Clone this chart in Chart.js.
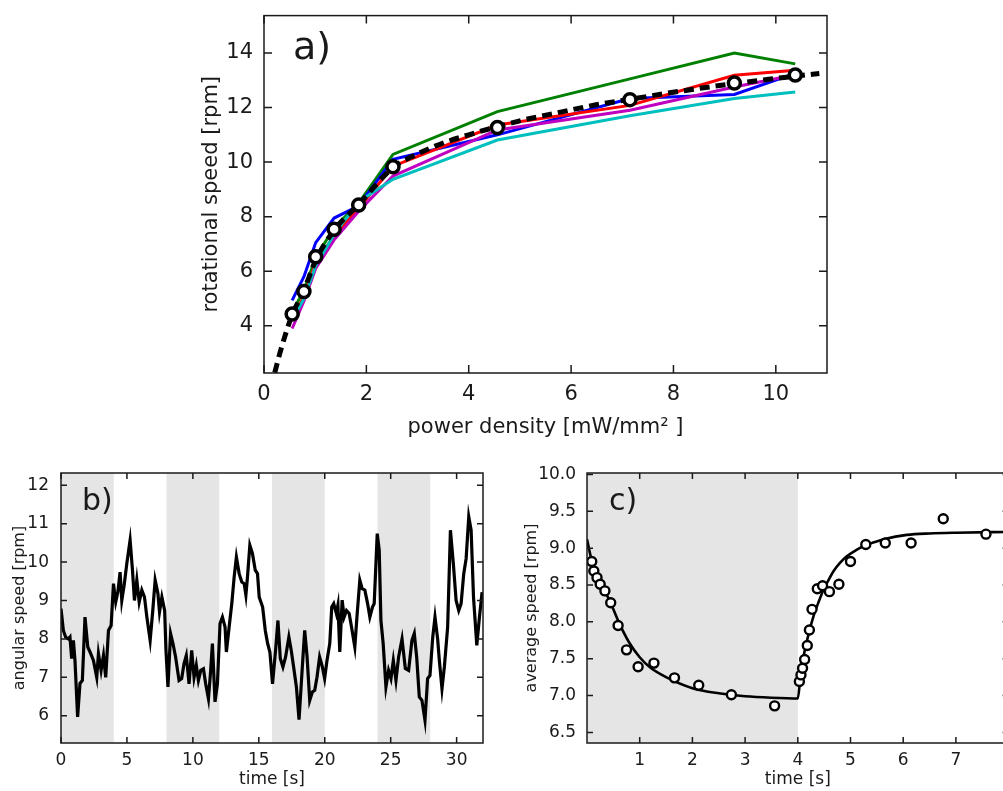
<!DOCTYPE html>
<html>
<head>
<meta charset="utf-8">
<script src="https://cdn.jsdelivr.net/npm/chart.js@4.4.4/dist/chart.umd.min.js"></script>
<style>
  html, body { margin: 0; padding: 0; background: #fff; overflow: hidden; }
  body { width: 1003px; height: 791px; position: relative; }
  canvas { position: absolute; }
</style>
</head>
<body>
<canvas id="pa" width="670" height="450" style="left:180px;top:0px"></canvas>
<canvas id="pb" width="500" height="336" style="left:0px;top:455px"></canvas>
<canvas id="pc" width="510" height="336" style="left:515px;top:455px"></canvas>
<script>
// ---- panel a: rotational speed vs power density ----
const aPower   = [0.55, 0.78, 1.01, 1.37, 1.85, 2.52, 4.56, 7.15, 9.19, 10.38];
const aMean    = [4.43, 5.26, 6.53, 7.54, 8.43, 9.83, 11.27, 12.29, 12.9, 13.19];
const aBlue    = [4.93, 5.8, 7.05, 7.95, 8.4, 10.1, 11.0, 12.33, 12.48, 13.25];
const aGreen   = [4.5, 5.3, 6.5, 7.6, 8.5, 10.28, 11.85, 13.05, 14.0, 13.6];
const aRed     = [4.2, 5.1, 6.3, 7.3, 8.3, 9.85, 11.36, 12.08, 13.18, 13.37];
const aCyan    = [4.2, 5.0, 6.2, 7.35, 8.55, 9.37, 10.81, 11.7, 12.33, 12.57];
const aMagenta = [3.9, 4.9, 6.1, 7.15, 8.2, 9.49, 11.18, 11.9, 12.75, 13.2];
const aFitX    = [0.21, 0.31, 0.55, 0.78, 1.01, 1.37, 1.85, 2.52, 3.0, 3.5, 4.0, 4.56, 5.2, 5.84, 6.49, 7.15, 7.79, 8.5, 9.19, 9.8, 10.38, 10.85];
const aFitY    = [2.28, 3.0, 4.4, 5.3, 6.4, 7.5, 8.45, 9.8, 10.3, 10.7, 11.0, 11.3, 11.6, 11.85, 12.1, 12.3, 12.5, 12.7, 12.88, 13.02, 13.15, 13.25];
const aXTicks  = [0, 2, 4, 6, 8, 10];
const aYTicks  = [4, 6, 8, 10, 12, 14];

// ---- panel b: angular speed vs time ----
const bTime = [0,0.18,0.35,0.56,0.68,0.81,0.94,1.06,1.26,1.44,1.62,1.82,2.03,2.2,2.46,2.71,2.84,3.04,3.22,3.39,
  3.6,3.8,3.98,4.15,4.31,4.48,4.61,4.79,4.99,5.24,5.42,5.57,5.75,5.93,6.13,6.33,6.51,6.76,6.96,7.14,
  7.35,7.47,7.65,7.86,7.96,8.11,
  8.31,8.49,8.69,8.95,9.15,9.33,9.5,9.71,9.91,10.09,10.26,10.42,10.6,10.8,10.97,11.18,11.35,11.48,11.68,11.86,
  12.06,12.24,12.44,12.54,12.75,12.95,13.13,13.3,13.51,13.71,13.89,14.02,14.14,14.32,14.52,14.73,14.9,15.03,15.29,15.49,
  15.67,15.84,16.04,
  16.27,16.45,16.63,16.83,17.03,17.28,17.46,17.64,17.85,18.05,18.3,18.48,18.66,18.86,19.06,19.24,19.41,19.61,19.82,19.99,
  20.17,20.38,20.53,20.68,20.88,21.0,21.14,21.32,21.47,21.65,21.85,22.03,22.28,22.46,22.66,22.84,23.04,23.25,23.42,23.62,
  23.75,23.98,24.13,
  24.26,24.43,24.64,24.84,25.02,25.2,25.4,25.6,25.86,26.11,26.36,26.61,26.79,26.97,27.17,27.37,27.6,27.8,27.98,28.19,
  28.36,28.56,28.69,28.89,29.07,29.32,29.53,29.76,29.96,30.16,30.34,30.54,30.72,30.92,31.1,31.28,31.53,31.73,31.93];
const bSpeed = [8.79,8.22,8.05,8.0,8.05,7.49,7.96,7.44,5.97,6.84,6.92,8.57,7.79,7.66,7.44,7.0,7.62,7.18,7.57,7.0,
  8.22,8.35,9.44,8.96,9.22,9.74,9.0,9.4,9.96,10.57,9.79,9.0,9.53,8.96,9.27,9.09,8.57,7.96,8.74,9.53,
  9.18,8.7,9.09,8.74,7.7,6.75,
  8.14,7.88,7.53,6.92,6.97,7.36,7.57,6.83,7.7,7.0,7.31,6.92,7.18,7.22,6.83,6.44,7.18,7.88,6.36,6.83,
  8.4,8.57,8.31,7.66,8.31,8.92,9.61,10.13,9.7,9.48,9.44,9.14,9.61,10.44,10.22,9.79,9.7,9.09,8.83,8.22,
  7.88,7.66,6.83,
  7.7,8.48,7.49,7.27,7.53,8.05,7.7,7.27,6.75,5.9,7.27,8.22,7.53,6.4,6.62,6.66,7.0,7.53,7.27,6.97,
  7.44,7.88,8.83,8.92,8.66,8.88,7.66,9.01,8.57,8.74,8.66,8.31,7.79,8.66,9.53,9.31,9.27,8.92,8.57,8.83,
  8.92,10.74,10.31,
  8.48,7.88,6.75,7.18,6.97,7.44,6.92,7.53,8.0,7.23,7.18,7.96,8.14,7.53,6.49,6.4,5.88,6.97,7.05,8.05,
  8.57,8.0,7.44,6.7,7.27,8.31,10.83,9.92,9.0,8.74,8.92,9.7,10.09,11.18,10.83,9.09,7.83,8.57,9.22];
const bBandStart = [0, 8, 16, 24];
const bBandEnd   = [4, 12, 20, 28];
const bXTicks = [0, 5, 10, 15, 20, 25, 30];
const bYTicks = [6, 7, 8, 9, 10, 11, 12];

// ---- panel c: average speed vs time ----
const cTime  = [0.09,0.13,0.19,0.25,0.34,0.45,0.59,0.75,0.97,1.27,1.66,2.12,2.74,3.56,4.03,4.06,4.09,4.13,4.18,4.22,
  4.27,4.37,4.47,4.6,4.78,5.0,5.29,5.66,6.15,6.76,7.57];
const cSpeed = [8.82,8.69,8.6,8.51,8.42,8.26,7.95,7.62,7.39,7.44,7.24,7.14,7.01,6.86,7.19,7.28,7.37,7.49,7.68,7.89,
  8.17,8.45,8.49,8.41,8.51,8.82,9.05,9.07,9.07,9.4,9.19];
const cFitTime  = [0,0.1,0.2,0.3,0.4,0.5,0.6,0.8,1.0,1.2,1.5,2.0,2.5,3.0,3.5,4.0,4.05,4.11,4.2,4.3,
  4.4,4.49,4.6,4.68,4.8,4.93,5.1,5.25,5.45,5.63,6.07,6.5,7.0,8.0];
const cFitSpeed = [9.12,8.8,8.62,8.47,8.33,8.17,8.0,7.72,7.52,7.38,7.25,7.1,7.03,6.99,6.97,6.96,7.25,7.53,7.82,8.08,
  8.28,8.44,8.59,8.69,8.8,8.89,8.97,9.03,9.08,9.12,9.18,9.2,9.21,9.22];
const cBandStart = [0];
const cBandEnd   = [4];
const cXTicks = [1, 2, 3, 4, 5, 6, 7];
const cYTicks = [6.5, 7.0, 7.5, 8.0, 8.5, 9.0, 9.5, 10.0];

const FONT = 'DejaVu Sans';
const INK = '#1a1a1a';
const pts = (xs, ys) => xs.map((x, i) => ({ x, y: ys[i] }));

// shaded bands, frame with inward ticks on all four sides, panel tag
const axesFrame = {
  id: 'axesFrame',
  beforeDatasetsDraw(chart, args, opts) {
    const { ctx, chartArea: ca, scales: { x } } = chart;
    ctx.save();
    ctx.fillStyle = '#e5e5e5';
    (opts.bandStart || []).forEach((s, i) => {
      const x0 = Math.max(ca.left, x.getPixelForValue(s));
      const x1 = Math.min(ca.right, x.getPixelForValue(opts.bandEnd[i]));
      ctx.fillRect(x0, ca.top, x1 - x0, ca.bottom - ca.top);
    });
    ctx.restore();
  },
  afterDatasetsDraw(chart, args, opts) {
    const { ctx, chartArea: ca, scales: { x, y } } = chart;
    const len = opts.tickLen || 6;
    ctx.save();
    ctx.strokeStyle = INK;
    ctx.lineWidth = 1.5;
    ctx.strokeRect(ca.left, ca.top, ca.right - ca.left, ca.bottom - ca.top);
    ctx.beginPath();
    x.ticks.forEach(t => {
      const p = x.getPixelForValue(t.value);
      ctx.moveTo(p, ca.bottom); ctx.lineTo(p, ca.bottom - len);
      ctx.moveTo(p, ca.top); ctx.lineTo(p, ca.top + len);
    });
    y.ticks.forEach(t => {
      const p = y.getPixelForValue(t.value);
      ctx.moveTo(ca.left, p); ctx.lineTo(ca.left + len, p);
      ctx.moveTo(ca.right, p); ctx.lineTo(ca.right - len, p);
    });
    ctx.stroke();
    if (opts.tag) {
      ctx.fillStyle = INK;
      ctx.font = opts.tagSize + 'px "' + FONT + '"';
      ctx.textBaseline = 'alphabetic';
      ctx.textAlign = 'left';
      ctx.fillText(opts.tag, ca.left + opts.tagDx, ca.top + opts.tagDy);
    }
    ctx.restore();
  }
};

function scale(min, max, tickList, size, pad, fit, title, titleSize, titlePad, fmt) {
  return {
    type: 'linear', min, max,
    grid: { display: false }, border: { display: false },
    afterBuildTicks: s => { s.ticks = tickList.map(v => ({ value: v })); },
    afterFit: fit,
    ticks: { font: { family: FONT, size }, color: INK, padding: pad, maxRotation: 0,
             callback: fmt || (v => String(v)) },
    title: { display: true, text: title, font: { family: FONT, size: titleSize }, color: INK, padding: titlePad }
  };
}

const base = (padding, frame, x, y) => ({
  responsive: false, animation: false, events: [],
  layout: { padding },
  plugins: { legend: { display: false }, tooltip: { enabled: false }, axesFrame: frame },
  scales: { x, y }
});

const line = (data, color, width, order, extra) => Object.assign({
  data, showLine: true, borderColor: color, borderWidth: width, pointRadius: 0, fill: false, order
}, extra || {});

new Chart(document.getElementById('pa'), {
  type: 'scatter',
  data: { datasets: [
    { data: pts(aPower, aMean), pointRadius: 6, pointBorderWidth: 3.5, pointBackgroundColor: '#fff', pointBorderColor: '#000', order: 0 },
    line(pts(aFitX, aFitY), '#000', 5, 1, { borderDash: [10, 6], cubicInterpolationMode: 'monotone' }),
    line(pts(aPower, aCyan), '#00bfbf', 3, 2),
    line(pts(aPower, aMagenta), '#bf00bf', 3, 2),
    line(pts(aPower, aRed), '#ff0000', 3, 2),
    line(pts(aPower, aBlue), '#0000ff', 3, 2),
    line(pts(aPower, aGreen), '#008000', 3, 2)
  ] },
  options: base({ top: 12, right: 23, left: 0, bottom: 0 },
    { tickLen: 8, tag: 'a)', tagSize: 38, tagDx: 29, tagDy: 43 },
    scale(0, 11, aXTicks, 21, 1, s => { s.height = 77; }, 'power density [mW/mm² ]', 21, { top: 0, bottom: 10 }),
    scale(2.27, 15.37, aYTicks, 21, 3, s => { s.width = 84; }, 'rotational speed [rpm]', 21, { top: 19, bottom: 0 })),
  plugins: [axesFrame]
});

new Chart(document.getElementById('pb'), {
  type: 'scatter',
  data: { datasets: [ line(pts(bTime, bSpeed), '#000', 3.2, 0) ] },
  options: base({ top: 18, right: 17, left: 0, bottom: 0 },
    { tickLen: 6, tag: 'b)', tagSize: 30, tagDx: 21, tagDy: 37, bandStart: bBandStart, bandEnd: bBandEnd },
    scale(0, 32, bXTicks, 17, -1, s => { s.height = 48; }, 'time [s]', 17, { top: 0, bottom: 1 }),
    scale(5.29, 12.32, bYTicks, 17, 4, s => { s.width = 61; }, 'angular speed [rpm]', 16, { top: 10, bottom: 0 })),
  plugins: [axesFrame]
});

new Chart(document.getElementById('pc'), {
  type: 'scatter',
  data: { datasets: [
    { data: pts(cTime, cSpeed), pointRadius: 4.5, pointBorderWidth: 2.4, pointBackgroundColor: '#fff', pointBorderColor: '#000', order: 0 },
    line(pts(cFitTime, cFitSpeed), '#000', 2.6, 1, { cubicInterpolationMode: 'monotone' })
  ] },
  options: base({ top: 18, right: 16.4, left: 0, bottom: 0 },
    { tickLen: 6, tag: 'c)', tagSize: 30, tagDx: 22, tagDy: 37, bandStart: cBandStart, bandEnd: cBandEnd },
    scale(0, 8, cXTicks, 17, -1, s => { s.height = 48; }, 'time [s]', 17, { top: 0, bottom: 1 }),
    scale(6.356, 10.02, cYTicks, 17, 3, s => { s.width = 72; }, 'average speed [rpm]', 16, { top: 7, bottom: 0 }, v => v.toFixed(1))),
  plugins: [axesFrame]
});
</script>
</body>
</html>
